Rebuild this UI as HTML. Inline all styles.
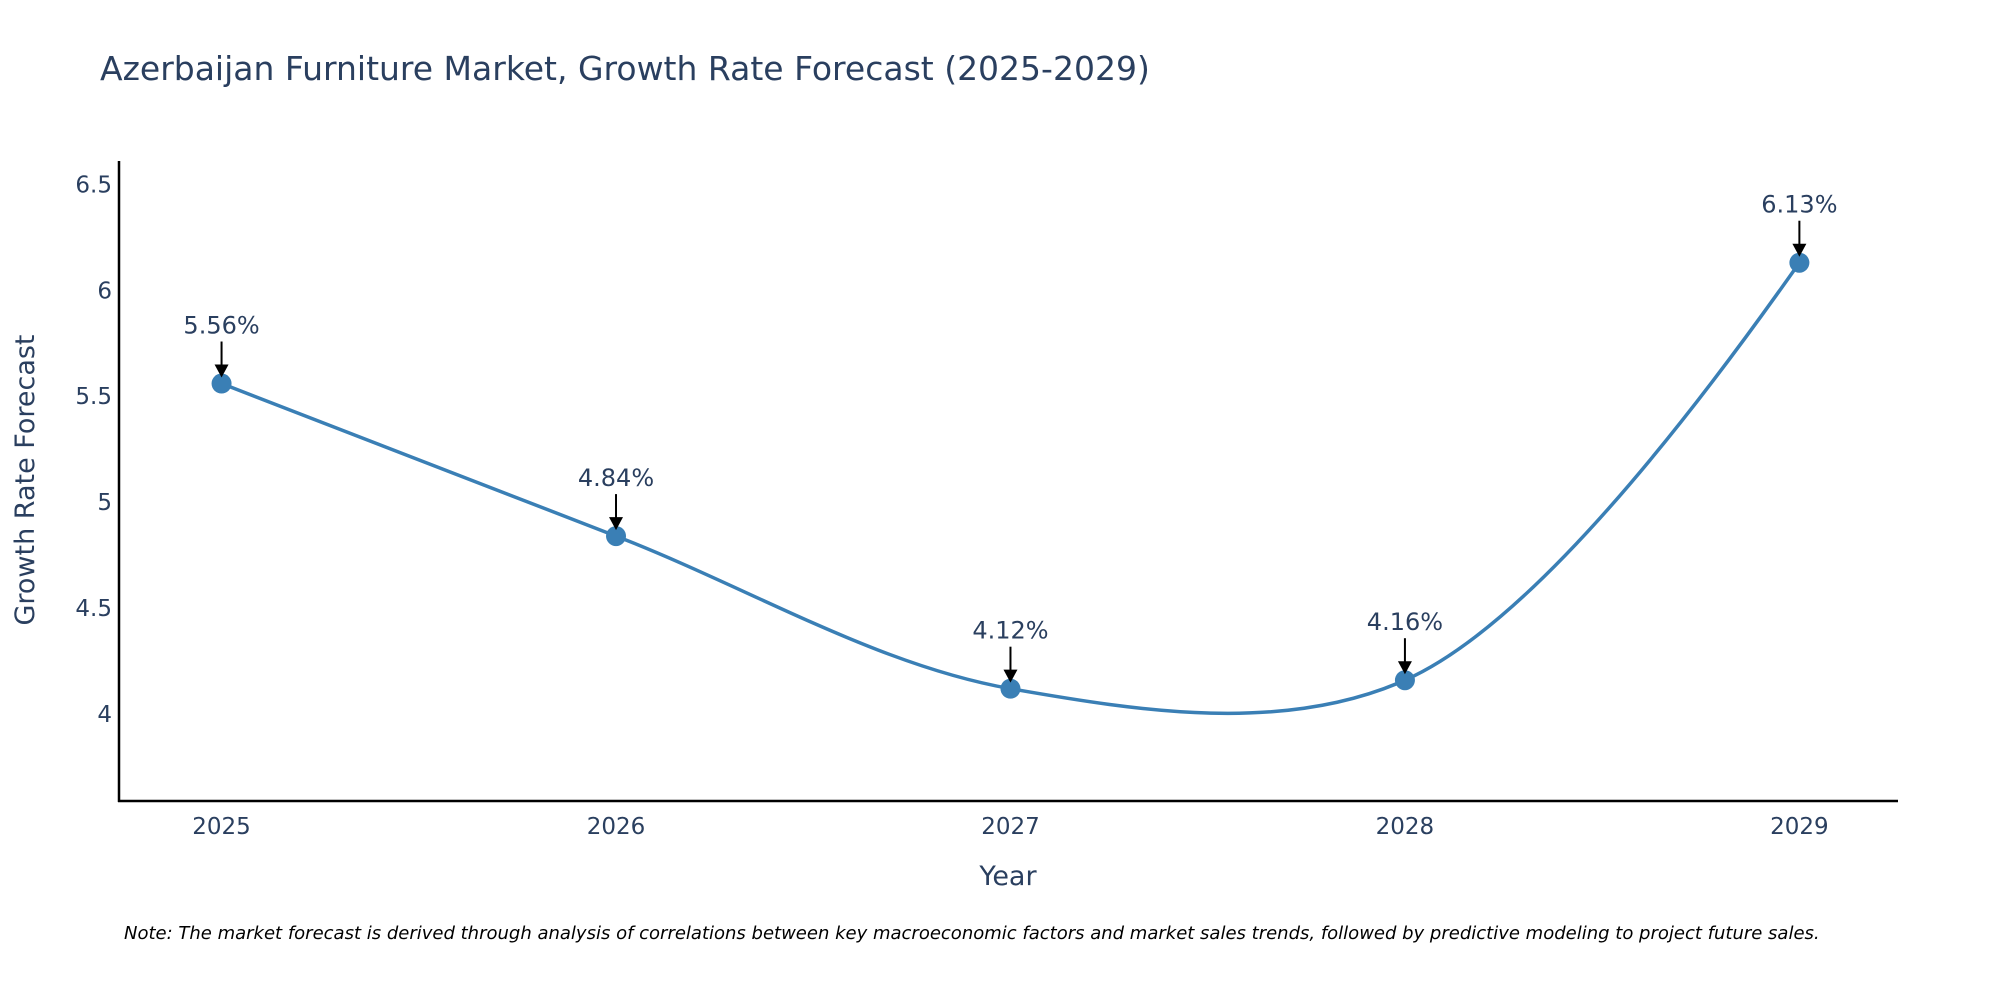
<!DOCTYPE html>
<html><head><meta charset="utf-8"><style>
html,body{margin:0;padding:0;background:#fff;}
svg{display:block;font-family:"DejaVu Sans","Liberation Sans",sans-serif;}
</style></head><body>
<svg id="chart" width="2000" height="1000" viewBox="0 0 2000 1000">
<text x="100" y="80" font-size="33" fill="#2a3f5f">Azerbaijan Furniture Market, Growth Rate Forecast (2025-2029)</text>
<g id="yticks"></g>
<g id="xticks"></g>
<line x1="119" y1="161" x2="119" y2="802" stroke="#000" stroke-width="2.5"/>
<line x1="118" y1="801" x2="1898" y2="801" stroke="#000" stroke-width="2.5"/>
<path id="line" fill="none" stroke="#3a7fb5" stroke-width="3.5"/>
<g id="points"></g>
<g id="annots"></g>
<text x="1008" y="885" font-size="27" fill="#2a3f5f" text-anchor="middle">Year</text>
<text transform="translate(34,480) rotate(-90)" font-size="27" fill="#2a3f5f" text-anchor="middle">Growth Rate Forecast</text>
<text x="124" y="939" font-size="18" font-style="italic" fill="#000">Note: The market forecast is derived through analysis of correlations between key macroeconomic factors and market sales trends, followed by predictive modeling to project future sales.</text>
</svg>
<script>
const years = [2025, 2026, 2027, 2028, 2029];
const values = [5.56, 4.84, 4.12, 4.16, 6.13];
const labels = ["5.56%", "4.84%", "4.12%", "4.16%", "6.13%"];
const yTicks = [4, 4.5, 5, 5.5, 6, 6.5];
const yTickLabels = ["4", "4.5", "5", "5.5", "6", "6.5"];
const NS = "http://www.w3.org/2000/svg";
function xs(v){ return 119 + (v - 2024.74) / (2029.25 - 2024.74) * (1898 - 119); }
function ys(v){ return 801 - (v - 3.59) / (6.61 - 3.59) * (801 - 161); }
function mk(tag, attrs, parent){ const e = document.createElementNS(NS, tag); for (const k in attrs) e.setAttribute(k, attrs[k]); parent.appendChild(e); return e; }
const yt = document.getElementById('yticks');
yTicks.forEach((v, i) => {
  const t = mk('text', {x: 112, y: ys(v) + 8, 'font-size': 23, fill: '#2a3f5f', 'text-anchor': 'end'}, yt);
  
  
  t.textContent = yTickLabels[i];
});
const xt = document.getElementById('xticks');
years.forEach(y => {
  const t = mk('text', {x: xs(y), y: 834, 'font-size': 23, fill: '#2a3f5f', 'text-anchor': 'middle'}, xt);
  
  
  t.textContent = String(y);
});
const pts = years.map((y, i) => [xs(y), ys(values[i])]);
function tangent(p, c, n, s){
  const d1x = p[0]-c[0], d1y = p[1]-c[1], d2x = n[0]-c[0], d2y = n[1]-c[1];
  const d1a = Math.pow(d1x*d1x + d1y*d1y, 0.25), d2a = Math.pow(d2x*d2x + d2y*d2y, 0.25);
  const nx = (d2a*d2a*d1x - d1a*d1a*d2x)*s, ny = (d2a*d2a*d1y - d1a*d1a*d2y)*s;
  const de1 = 3*d2a*(d1a+d2a), de2 = 3*d1a*(d1a+d2a);
  return [[c[0]+nx/de1, c[1]+ny/de1], [c[0]-nx/de2, c[1]-ny/de2]];
}
const tg = [];
for (let i = 1; i < pts.length - 1; i++) tg.push(tangent(pts[i-1], pts[i], pts[i+1], 1));
let d = 'M' + pts[0] + 'Q' + tg[0][0] + ' ' + pts[1];
for (let i = 2; i < pts.length - 1; i++) d += 'C' + tg[i-2][1] + ' ' + tg[i-1][0] + ' ' + pts[i];
d += 'Q' + tg[pts.length-3][1] + ' ' + pts[pts.length-1];
document.getElementById('line').setAttribute('d', d);
const pg = document.getElementById('points'), ag = document.getElementById('annots');
pts.forEach((p, i) => {
  const c = mk('circle', {cx: p[0], cy: p[1], r: 10, fill: '#3a7fb5'}, pg);
  
  
  const l = mk('line', {x1: p[0], y1: p[1]-42, x2: p[0], y2: p[1]-18, stroke: '#000', 'stroke-width': 2}, ag);
  
  
  const h = mk('polygon', {points: `${p[0]-7},${p[1]-19} ${p[0]+7},${p[1]-19} ${p[0]},${p[1]-6}`, fill: '#000'}, ag);
  
  
  const t = mk('text', {x: p[0], y: p[1]-50, 'font-size': 24, fill: '#2a3f5f', 'text-anchor': 'middle'}, ag);
  
  
  t.textContent = labels[i];
});
</script>
</body></html>
